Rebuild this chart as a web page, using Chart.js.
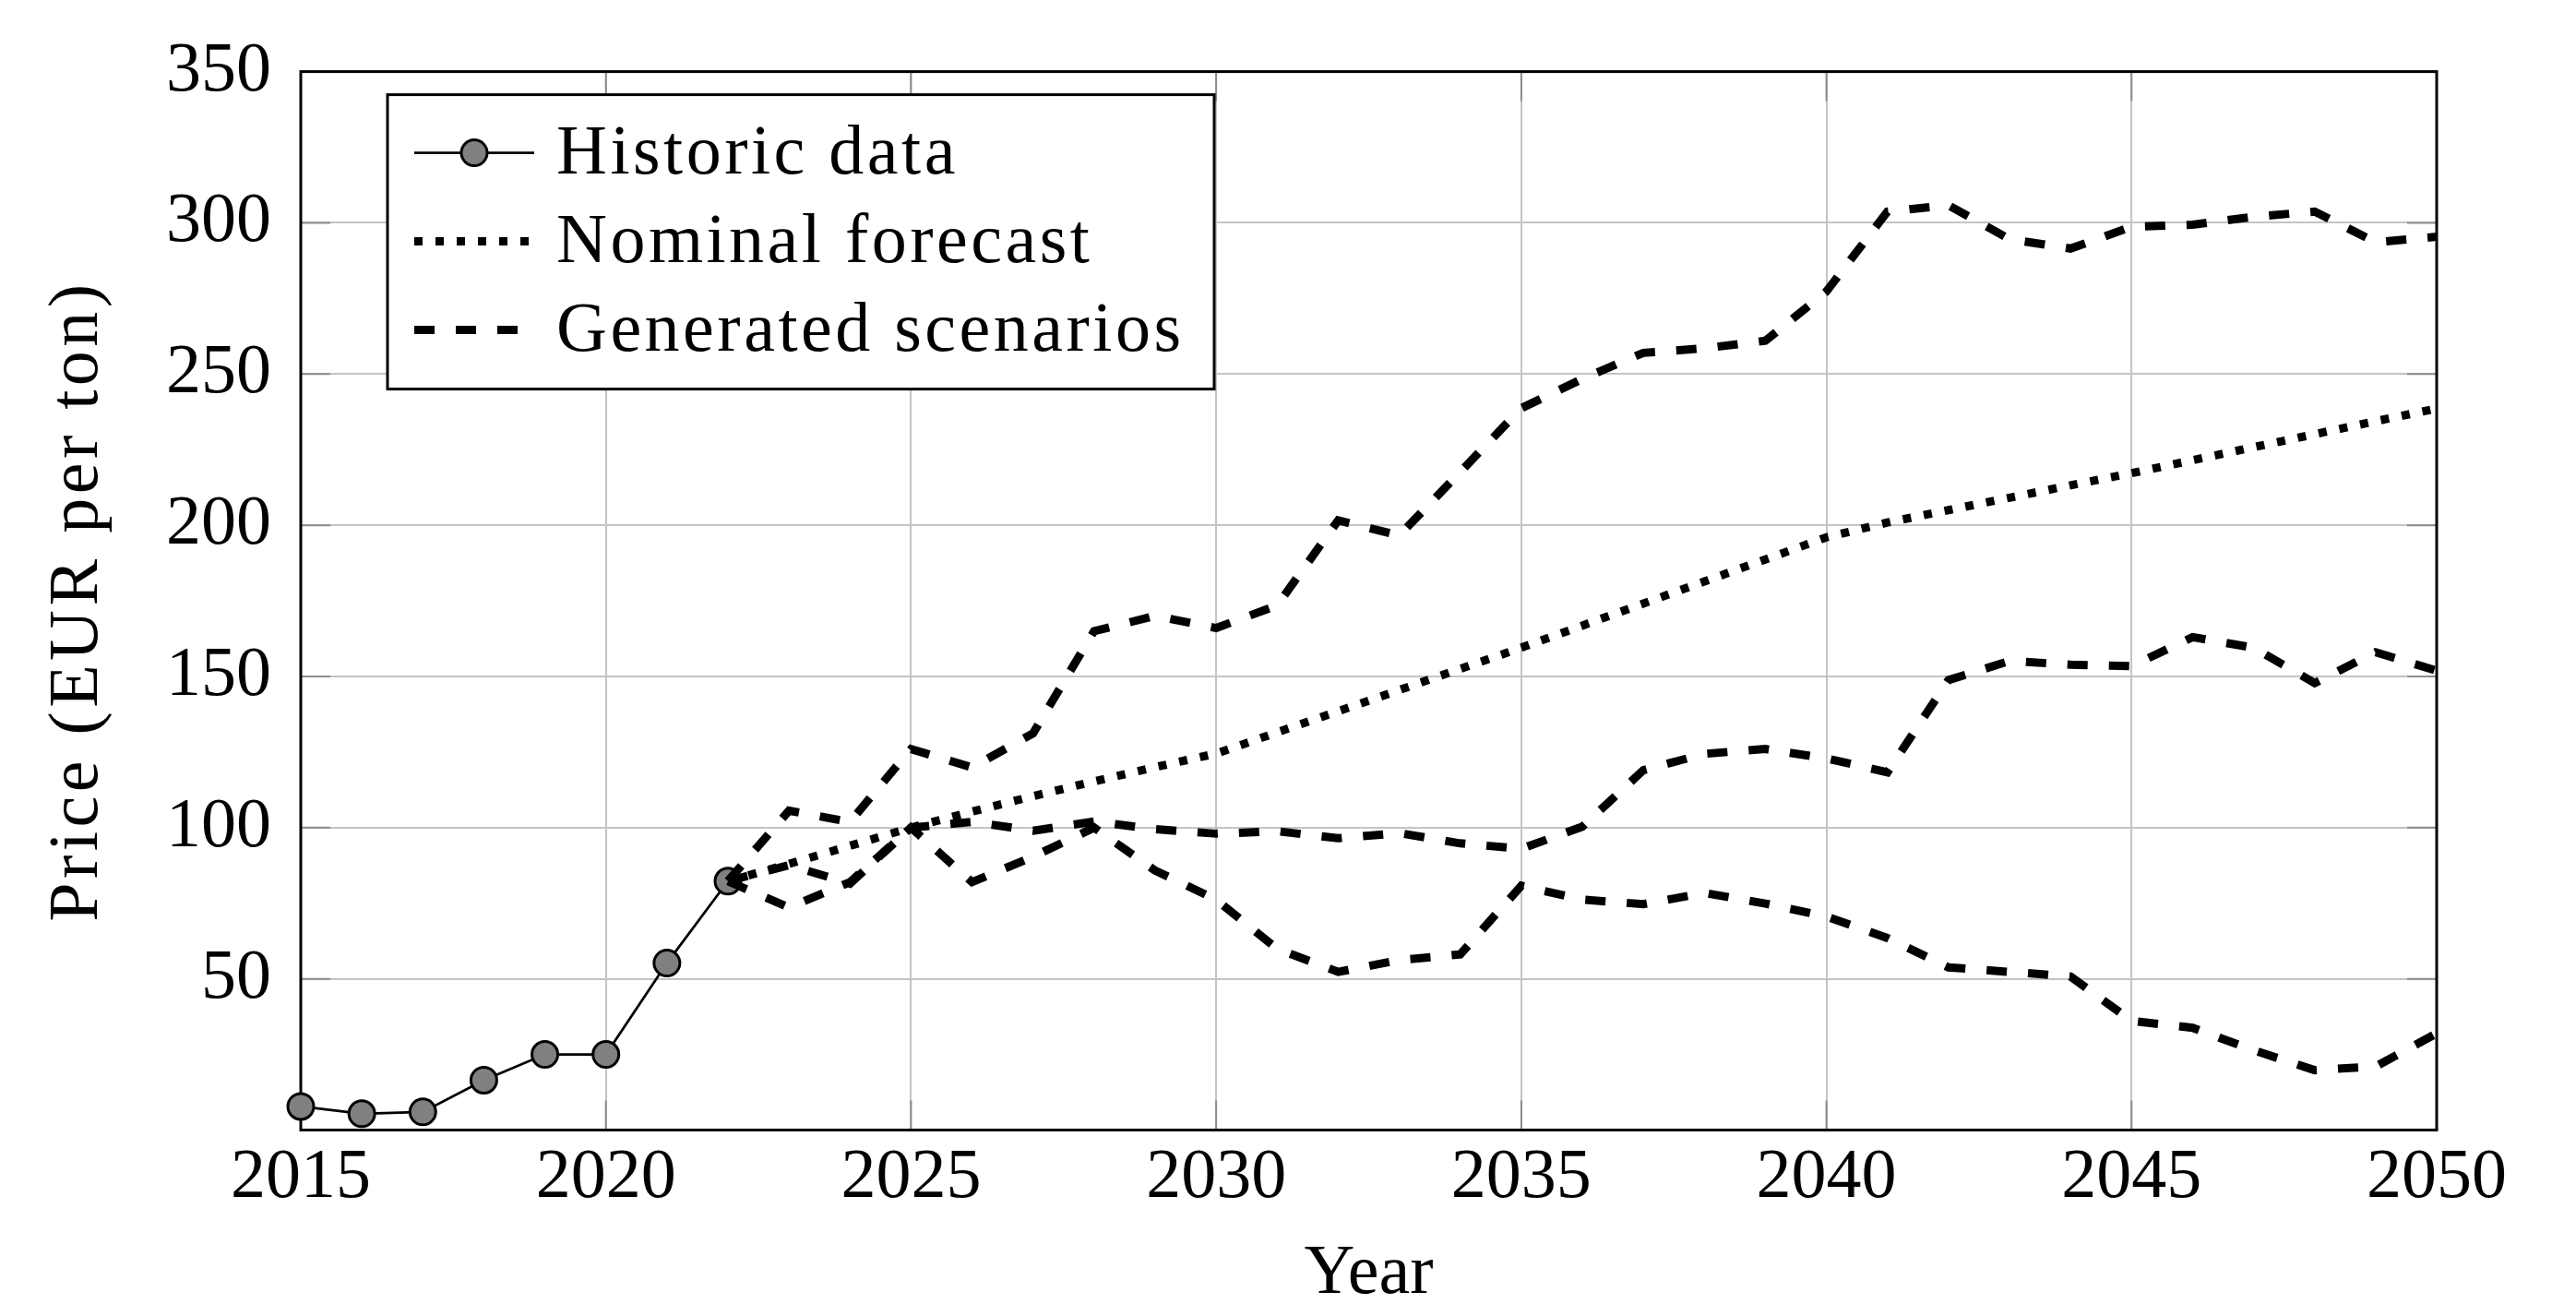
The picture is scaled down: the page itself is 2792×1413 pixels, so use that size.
<!DOCTYPE html>
<html>
<head>
<meta charset="utf-8">
<title>Price (EUR per ton)</title>
<script src="https://cdn.jsdelivr.net/npm/chart.js@4.4.1/dist/chart.umd.min.js"></script>
<style>
    html, body { margin: 0; padding: 0; background: #ffffff; }
    #chartBox { width: 2792px; height: 1413px; }
</style>
</head>
<body>
<div id="chartBox"><canvas id="priceChart" width="2792" height="1413"></canvas></div>
<script>
// Values
const historicYears = [2015, 2016, 2017, 2018, 2019, 2020, 2021, 2022];
const historicPrice = [7.8, 5.4, 6, 16.5, 25, 25, 55.2, 82.3];

const forecastYears = [2022, 2023, 2024, 2025, 2026, 2027, 2028, 2029, 2030, 2031,
    2032, 2033, 2034, 2035, 2036, 2037, 2038, 2039, 2040, 2041,
    2042, 2043, 2044, 2045, 2046, 2047, 2048, 2049, 2050];
const nominalForecast = [82.3, 88, 94, 100, 105.3, 110.4, 115.3, 120, 124.5, 131.5,
    138.5, 145.5, 152.5, 159.5, 166.8, 174.1, 181.4, 188.7, 196, 200.9,
    205, 209.1, 213.2, 217.2, 221.5, 225.8, 230.1, 234.4, 238.6];
const scenarioHigh = [82.3, 105.6, 101.9, 126, 119.9, 131.2, 165, 170, 166, 173.5,
    201.6, 196.6, 217.6, 238.7, 248.4, 257, 258.5, 261, 277.3, 303.7,
    305.8, 294.6, 291.5, 298.7, 299.4, 302, 303.7, 293.6, 295.4];
const scenarioMid = [82.3, 87.6, 81.5, 100, 101.9, 99, 102, 99.5, 98, 98.8,
    96.5, 98.2, 94.8, 93, 100.3, 119, 124.4, 126, 122.9, 118.3,
    148.8, 155.1, 153.9, 153.4, 163, 159.5, 147.8, 158, 151.9];
const scenarioLow = [82.3, 73.6, 82, 100, 82, 90.4, 100, 85.8, 76.2, 59.9,
    52.3, 56.2, 58.1, 80.8, 76.2, 74.7, 78.4, 74.9, 70.6, 63.5,
    53.8, 52.3, 50.8, 36.1, 33.8, 26.4, 19.8, 21, 32];

// Axis ticks and labels
const xTickValues = [2015, 2020, 2025, 2030, 2035, 2040, 2045, 2050];
const yTickValues = [0, 50, 100, 150, 200, 250, 300, 350];
const yTickLabels = ['', '50', '100', '150', '200', '250', '300', '350'];
const legendLabels = ['Historic data', 'Nominal forecast', 'Generated scenarios'];
const xTitle = 'Year';
const yTitle = 'Price (EUR per ton)';

const serif = '"Liberation Serif", "DejaVu Serif", serif';
const dashStyle = [22, 23];
const dotStyle = [9, 14];

function pairs(xs, ys) {
    return xs.map((x, i) => ({ x: x, y: ys[i] }));
}

// Frame around the plot area plus the small inward tick marks (pgfplots look)
const framePlugin = {
    id: 'frame',
    beforeDatasetsDraw(chart) {
        const { ctx, chartArea: a, scales } = chart;
        ctx.save();
        ctx.strokeStyle = '#8c8c8c';
        ctx.lineWidth = 2;
        ctx.beginPath();
        scales.x.ticks.forEach(t => {
            const px = scales.x.getPixelForValue(t.value);
            ctx.moveTo(px, a.bottom); ctx.lineTo(px, a.bottom - 32);
            ctx.moveTo(px, a.top); ctx.lineTo(px, a.top + 32);
        });
        scales.y.ticks.forEach(t => {
            const py = scales.y.getPixelForValue(t.value);
            ctx.moveTo(a.left, py); ctx.lineTo(a.left + 32, py);
            ctx.moveTo(a.right, py); ctx.lineTo(a.right - 32, py);
        });
        ctx.stroke();
        ctx.strokeStyle = '#000000';
        ctx.lineWidth = 3;
        ctx.strokeRect(a.left, a.top, a.right - a.left, a.bottom - a.top);
        ctx.restore();
    }
};

// Boxed legend in the upper left corner and the axis titles
const legendPlugin = {
    id: 'boxLegend',
    afterDraw(chart) {
        const { ctx, chartArea: a } = chart;
        const box = { x: a.left + 94, y: a.top + 25, w: 896, h: 319 };
        const rows = [box.y + 63, box.y + 159, box.y + 255];
        const sources = [0, 1, 2]; // dataset shown on each legend row
        const lineX0 = box.x + 29, lineX1 = box.x + 159, textX = box.x + 183;

        ctx.save();
        ctx.fillStyle = '#ffffff';
        ctx.fillRect(box.x, box.y, box.w, box.h);
        ctx.strokeStyle = '#000000';
        ctx.lineWidth = 3;
        ctx.setLineDash([]);
        ctx.strokeRect(box.x, box.y, box.w, box.h);

        legendLabels.forEach((label, i) => {
            const ds = chart.data.datasets[sources[i]];
            const y = rows[i];
            ctx.beginPath();
            ctx.setLineDash(ds.borderDash || []);
            ctx.lineCap = 'butt';
            ctx.lineWidth = ds.borderWidth;
            ctx.strokeStyle = ds.borderColor;
            ctx.moveTo(lineX0, y);
            ctx.lineTo(lineX1, y);
            ctx.stroke();
            ctx.setLineDash([]);
            if (ds.pointRadius > 0) {
                ctx.beginPath();
                ctx.arc((lineX0 + lineX1) / 2, y, ds.pointRadius, 0, Math.PI * 2);
                ctx.fillStyle = ds.pointBackgroundColor;
                ctx.fill();
                ctx.lineWidth = ds.pointBorderWidth;
                ctx.strokeStyle = ds.pointBorderColor;
                ctx.stroke();
            }
            ctx.fillStyle = '#000000';
            ctx.font = '76px ' + serif;
            ctx.letterSpacing = '3.5px';
            ctx.textAlign = 'left';
            ctx.textBaseline = 'alphabetic';
            ctx.fillText(label, textX, y + 22);
        });

        // axis titles
        ctx.fillStyle = '#000000';
        ctx.font = '76px ' + serif;
        ctx.textAlign = 'center';
        ctx.textBaseline = 'middle';
        ctx.letterSpacing = '0px';
        ctx.fillText(xTitle, (a.left + a.right) / 2, 1381);
        ctx.save();
        ctx.translate(85, (a.top + a.bottom) / 2);
        ctx.rotate(-Math.PI / 2);
        ctx.letterSpacing = '4.5px';
        ctx.fillText(yTitle, 0, 0);
        ctx.restore();
        ctx.restore();
    }
};

document.addEventListener('DOMContentLoaded', function () {
    const ctx = document.getElementById('priceChart').getContext('2d');

    Chart.defaults.font.family = serif;
    Chart.defaults.color = '#000000';

    new Chart(ctx, {
        type: 'line',
        data: {
            datasets: [
                {
                    label: legendLabels[0],
                    data: pairs(historicYears, historicPrice),
                    borderColor: '#000000',
                    borderWidth: 2.7,
                    pointRadius: 14,
                    pointBackgroundColor: '#808080',
                    pointBorderColor: '#000000',
                    pointBorderWidth: 3,
                    tension: 0,
                    clip: false,
                    order: 5
                },
                {
                    label: legendLabels[1],
                    data: pairs(forecastYears, nominalForecast),
                    borderColor: '#000000',
                    borderWidth: 9,
                    borderDash: dotStyle,
                    borderCapStyle: 'butt',
                    pointRadius: 0,
                    tension: 0,
                    order: 4
                },
                {
                    label: legendLabels[2],
                    data: pairs(forecastYears, scenarioHigh),
                    borderColor: '#000000',
                    borderWidth: 9,
                    borderDash: dashStyle,
                    borderCapStyle: 'butt',
                    pointRadius: 0,
                    tension: 0,
                    order: 3
                },
                {
                    label: legendLabels[2],
                    data: pairs(forecastYears, scenarioMid),
                    borderColor: '#000000',
                    borderWidth: 9,
                    borderDash: dashStyle,
                    borderCapStyle: 'butt',
                    pointRadius: 0,
                    tension: 0,
                    order: 2
                },
                {
                    label: legendLabels[2],
                    data: pairs(forecastYears, scenarioLow),
                    borderColor: '#000000',
                    borderWidth: 9,
                    borderDash: dashStyle,
                    borderCapStyle: 'butt',
                    pointRadius: 0,
                    tension: 0,
                    order: 1
                }
            ]
        },
        options: {
            responsive: false,
            devicePixelRatio: 1,
            animation: false,
            layout: {
                padding: { top: 75, right: 151, bottom: 0, left: 0 }
            },
            scales: {
                x: {
                    type: 'linear',
                    min: 2015,
                    max: 2050,
                    afterFit: scale => { scale.height = 188.5; },
                    afterBuildTicks: scale => {
                        scale.ticks = xTickValues.map(v => ({ value: v }));
                    },
                    ticks: {
                        padding: 7,
                        maxRotation: 0,
                        autoSkip: false,
                        color: '#000000',
                        font: { size: 76 },
                        callback: value => String(value)
                    },
                    grid: {
                        color: '#c4c4c4',
                        lineWidth: 2,
                        drawTicks: false
                    },
                    border: { display: false }
                },
                y: {
                    min: 0,
                    max: 350,
                    afterFit: scale => { scale.width = 326; },
                    afterBuildTicks: scale => {
                        scale.ticks = yTickValues.map(v => ({ value: v }));
                    },
                    ticks: {
                        padding: 32,
                        autoSkip: false,
                        color: '#000000',
                        font: { size: 76 },
                        callback: value => yTickLabels[yTickValues.indexOf(value)]
                    },
                    grid: {
                        color: '#c4c4c4',
                        lineWidth: 2,
                        drawTicks: false
                    },
                    border: { display: false }
                }
            },
            plugins: {
                legend: { display: false },
                tooltip: { enabled: false }
            }
        },
        plugins: [framePlugin, legendPlugin]
    });
});
</script>
</body>
</html>
